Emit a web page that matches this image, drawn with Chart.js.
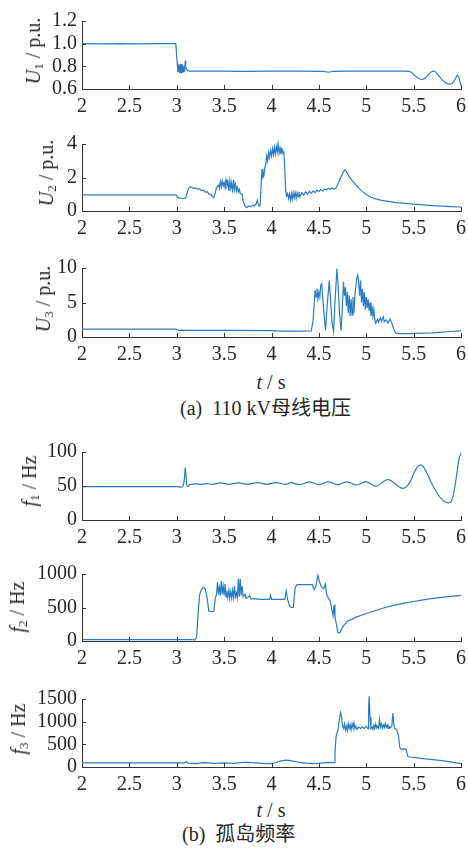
<!DOCTYPE html>
<html><head><meta charset="utf-8">
<script src="https://cdn.jsdelivr.net/npm/chart.js@4.4.1/dist/chart.umd.min.js"></script>
<style>
html,body{margin:0;padding:0;background:#fff}
body{width:468px;height:848px;position:relative;overflow:hidden;font-family:'Liberation Serif','Times New Roman',serif;color:#262626}
.c{position:absolute;left:0}
.yl{position:absolute;transform:translate(-50%,-50%) rotate(-90deg);white-space:nowrap;font-size:20px;line-height:20px}
.yl sub{font-size:13px;vertical-align:-3px;line-height:0}
.xl{position:absolute;transform:translate(-50%,-50%);white-space:nowrap;font-size:20px;line-height:22px}
.cap{position:absolute;transform:translateY(-50%);white-space:nowrap;font-size:20px;line-height:22px;font-family:'Liberation Serif','Noto Sans CJK SC',serif}
</style>
</head><body>
<script>
// ---- tick labels ----
const xTickVals = [2, 2.5, 3, 3.5, 4, 4.5, 5, 5.5, 6];
const xTickLabels = ['2', '2.5', '3', '3.5', '4', '4.5', '5', '5.5', '6'];
const u1Ticks = [0.6, 0.8, 1.0, 1.2];
const u1TickLabels = ['0.6', '0.8', '1.0', '1.2'];
const u2Ticks = [0, 2, 4];
const u2TickLabels = ['0', '2', '4'];
const u3Ticks = [0, 5, 10];
const u3TickLabels = ['0', '5', '10'];
const f1Ticks = [0, 50, 100];
const f1TickLabels = ['0', '50', '100'];
const f2Ticks = [0, 500, 1000];
const f2TickLabels = ['0', '500', '1000'];
const f3Ticks = [0, 500, 1000, 1500];
const f3TickLabels = ['0', '500', '1000', '1500'];

// ---- U1 (p.u.) ----
const u1T = [2.00,2.20,2.40,2.60,2.80,2.99,3.000,3.005,3.010,3.015,3.020,3.025,3.030,3.035,3.040,3.045,3.050,3.055,3.060,3.065,3.070,3.075,3.080,3.085,3.090,3.095,3.100,3.110,3.130,3.30,3.50,3.70,4.00,4.30,4.55,4.60,4.65,4.80,5.00,5.20,5.40,5.45,5.48,5.52,5.56,5.59,5.63,5.67,5.70,5.73,5.77,5.81,5.85,5.88,5.91,5.94,5.96,5.975,5.99,6.00];
const u1V = [1.000,0.998,1.001,0.999,1.001,1.000,0.880,0.820,0.780,0.800,0.750,0.810,0.740,0.820,0.740,0.820,0.740,0.820,0.750,0.810,0.750,0.800,0.760,0.780,0.852,0.800,0.780,0.765,0.758,0.757,0.758,0.756,0.758,0.757,0.755,0.748,0.755,0.757,0.757,0.757,0.757,0.755,0.745,0.712,0.690,0.683,0.700,0.740,0.758,0.752,0.712,0.672,0.650,0.642,0.648,0.690,0.722,0.712,0.662,0.630];

// ---- U2 (p.u.) ----
const u2T = [2.00,2.50,2.99,3.00,3.01,3.05,3.09,3.10,3.12,3.14,3.16,3.18,3.20,3.22,3.24,3.26,3.28,3.30,3.32,3.34,3.36,3.38,3.39,3.40,3.42,3.44,3.45,3.46,3.47,3.48,3.49,3.50,3.51,3.52,3.53,3.54,3.55,3.56,3.57,3.58,3.59,3.60,3.61,3.62,3.63,3.64,3.65,3.66,3.67,3.69,3.70,3.72,3.74,3.76,3.78,3.80,3.82,3.84,3.85,3.86,3.87,3.88,3.89,3.90,3.91,3.92,3.93,3.94,3.95,3.96,3.97,3.98,3.99,4.00,4.01,4.02,4.03,4.04,4.05,4.06,4.07,4.08,4.09,4.10,4.11,4.12,4.13,4.14,4.15,4.16,4.17,4.18,4.19,4.20,4.21,4.22,4.23,4.24,4.25,4.26,4.27,4.28,4.29,4.30,4.32,4.34,4.36,4.38,4.40,4.42,4.44,4.46,4.48,4.50,4.52,4.54,4.56,4.58,4.60,4.62,4.64,4.66,4.68,4.70,4.73,4.76,4.775,4.79,4.82,4.86,4.90,4.95,5.00,5.05,5.10,5.15,5.20,5.30,5.40,5.50,5.60,5.70,5.80,5.90,6.00];
const u2V = [0.96,0.96,0.96,0.90,0.80,0.76,0.75,0.85,1.30,1.45,1.42,1.34,1.38,1.30,1.33,1.22,1.25,1.12,1.15,1.02,0.98,0.85,0.80,0.95,1.40,1.55,1.35,1.75,1.45,1.80,1.50,1.70,1.40,1.85,1.50,1.75,1.20,1.80,1.35,1.70,1.10,1.85,1.30,1.60,1.20,1.40,1.15,1.30,1.05,1.00,0.60,0.30,0.20,0.30,0.25,0.35,0.30,0.45,0.65,0.40,0.30,0.35,1.50,2.50,2.00,2.10,2.60,2.80,3.30,3.00,3.50,3.20,3.60,3.30,3.70,3.35,3.80,3.40,3.85,3.50,4.00,3.45,3.75,3.40,3.70,3.45,3.55,2.50,1.20,0.90,1.05,0.75,1.00,0.65,1.05,0.70,1.10,0.80,1.10,0.75,1.10,0.85,1.15,0.85,1.10,0.95,1.15,1.00,1.18,1.05,1.20,1.10,1.25,1.15,1.28,1.20,1.30,1.25,1.35,1.28,1.38,1.30,1.38,1.60,2.00,2.35,2.45,2.35,2.05,1.75,1.50,1.20,0.98,0.82,0.72,0.65,0.60,0.52,0.46,0.41,0.36,0.32,0.29,0.26,0.24];

// ---- U3 (p.u.) ----
const u3T = [2.00,2.50,2.99,3.02,3.05,3.10,3.50,4.00,4.10,4.30,4.42,4.44,4.46,4.47,4.48,4.49,4.50,4.51,4.52,4.53,4.55,4.57,4.59,4.61,4.62,4.64,4.655,4.67,4.69,4.70,4.72,4.735,4.75,4.76,4.77,4.78,4.79,4.80,4.81,4.82,4.83,4.84,4.85,4.86,4.87,4.88,4.90,4.91,4.92,4.93,4.94,4.95,4.96,4.97,4.98,4.99,5.00,5.01,5.02,5.03,5.04,5.05,5.06,5.07,5.08,5.09,5.10,5.12,5.13,5.15,5.16,5.18,5.19,5.21,5.23,5.25,5.27,5.29,5.31,5.35,5.45,5.60,5.70,5.80,5.90,5.95,6.00];
const u3V = [1.15,1.15,1.15,0.95,1.00,0.95,0.95,0.92,0.85,0.85,0.88,2.50,6.80,5.80,7.00,5.50,6.50,5.80,7.50,7.70,4.00,1.00,5.00,8.20,6.00,2.00,0.80,5.00,9.90,8.00,3.00,0.90,5.00,8.00,6.00,7.20,4.50,6.50,3.50,6.00,3.00,5.50,3.20,5.80,3.50,6.00,8.50,9.00,8.00,6.00,8.20,5.00,7.00,4.50,6.50,4.00,5.80,4.20,5.50,3.80,5.00,3.00,4.50,3.00,4.00,2.50,2.00,2.60,2.20,2.80,2.30,2.90,2.20,2.50,2.00,2.60,2.00,1.20,0.60,0.50,0.48,0.55,0.60,0.70,0.80,0.85,0.90];

// ---- f1 (Hz) ----
const f1T = [2.00,2.50,3.00,3.06,3.08,3.09,3.10,3.11,3.12,3.14,3.20,3.26,3.32,3.38,3.46,3.55,3.65,3.75,3.85,3.95,4.05,4.15,4.20,4.30,4.40,4.50,4.60,4.70,4.80,4.90,5.00,5.10,5.23,5.38,5.45,5.50,5.54,5.57,5.60,5.65,5.70,5.75,5.80,5.84,5.87,5.90,5.93,5.96,5.98,6.00];
const f1V = [49,49,49,49,60,77,60,50,49.5,52,53,52.5,53.5,52.5,54.5,52.5,54.5,52.5,55,52.5,55,52.5,55,52,56,52,56,52,56,51.5,56.5,49.5,59.5,46.5,53,68,78,81,79,66,51,39,30,26,25,28,45,72,90,98];

// ---- f2 (Hz) ----
const f2T = [2.00,3.17,3.19,3.21,3.225,3.24,3.26,3.28,3.30,3.32,3.335,3.34,3.39,3.405,3.42,3.43,3.44,3.45,3.46,3.47,3.48,3.49,3.50,3.51,3.52,3.53,3.54,3.55,3.56,3.57,3.58,3.59,3.60,3.61,3.62,3.63,3.64,3.65,3.66,3.67,3.68,3.69,3.70,3.72,3.73,3.75,3.77,3.78,3.82,3.90,3.98,3.99,4.00,4.14,4.155,4.17,4.19,4.21,4.23,4.25,4.27,4.43,4.45,4.47,4.49,4.51,4.53,4.55,4.57,4.58,4.60,4.62,4.64,4.65,4.66,4.67,4.685,4.70,4.72,4.74,4.76,4.80,4.90,5.00,5.10,5.20,5.30,5.40,5.50,5.60,5.70,5.80,5.90,6.00];
const f2V = [20,20,15,60,400,680,770,800,780,650,480,440,440,620,700,880,720,800,680,900,700,820,680,850,660,750,650,760,640,740,640,760,650,820,660,720,650,930,660,930,680,820,660,700,640,650,680,630,630,620,620,680,620,620,750,620,520,500,500,800,840,840,770,830,980,870,800,780,850,700,640,600,450,380,540,350,250,130,120,180,230,290,360,410,455,500,535,565,590,615,635,650,665,680];

// ---- f3 (Hz) ----
const f3T = [2.00,3.08,3.10,3.12,3.20,3.30,3.40,3.50,3.60,3.70,3.75,3.80,3.90,4.00,4.05,4.10,4.15,4.20,4.30,4.40,4.50,4.60,4.66,4.67,4.68,4.69,4.70,4.72,4.73,4.74,4.75,4.76,4.77,4.78,4.79,4.80,4.81,4.82,4.83,4.84,4.85,4.86,4.87,4.88,4.89,4.90,4.92,4.94,4.96,4.98,5.00,5.02,5.025,5.03,5.04,5.05,5.06,5.07,5.08,5.09,5.10,5.11,5.12,5.13,5.14,5.15,5.16,5.17,5.18,5.19,5.20,5.21,5.22,5.23,5.24,5.25,5.27,5.28,5.29,5.30,5.32,5.34,5.355,5.37,5.40,5.42,5.44,5.46,5.60,5.80,6.00];
const f3V = [90,90,120,85,75,95,80,90,80,100,105,95,80,75,100,135,150,140,100,75,80,100,95,300,650,750,800,1100,1200,1100,900,850,950,820,900,800,960,850,930,820,950,870,980,850,900,830,880,850,880,850,900,840,1300,1560,1100,850,880,830,920,850,950,860,900,850,1050,880,950,860,930,870,960,880,930,850,900,860,900,1190,950,850,830,700,420,390,400,390,230,220,185,140,75];

// ---- layout of the six panels ----
const panels = [
  {t:u1T, v:u1V, ticks:u1Ticks, labels:u1TickLabels, top:17,  bottom:89,  yl:'<i>U</i><sub>1</sub> / p.u.', ylx:33, yly:51, ten:0},
  {t:u2T, v:u2V, ticks:u2Ticks, labels:u2TickLabels, top:140, bottom:211, yl:'<i>U</i><sub>2</sub> / p.u.', ylx:46, yly:173, ten:0},
  {t:u3T, v:u3V, ticks:u3Ticks, labels:u3TickLabels, top:264, bottom:337, yl:'<i>U</i><sub>3</sub> / p.u.', ylx:43, yly:299, ten:0},
  {t:f1T, v:f1V, ticks:f1Ticks, labels:f1TickLabels, top:448, bottom:520, yl:'<i>f</i><sub>1</sub> / Hz', ylx:29, yly:481, ten:0.35},
  {t:f2T, v:f2V, ticks:f2Ticks, labels:f2TickLabels, top:570, bottom:641, yl:'<i>f</i><sub>2</sub> / Hz', ylx:17, yly:607, ten:0},
  {t:f3T, v:f3V, ticks:f3Ticks, labels:f3TickLabels, top:695, bottom:767, yl:'<i>f</i><sub>3</sub> / Hz', ylx:18, yly:729, ten:0}
];

const AXC = '#333333';
const LINEC = '#2a7cc4';
const PADTOP = 13, XAXH = 32, LEFTW = 82, RIGHTPAD = 0, CW = 472;

const inTicks = {
  id: 'inTicks',
  afterDraw(chart) {
    const ctx = chart.ctx, a = chart.chartArea;
    ctx.save();
    ctx.strokeStyle = AXC; ctx.lineWidth = 1;
    const xs = chart.scales.x, ys = chart.scales.y;
    xs.ticks.forEach(tk => {
      const p = Math.round(xs.getPixelForValue(tk.value)) + 0.5;
      ctx.beginPath(); ctx.moveTo(p, a.bottom); ctx.lineTo(p, a.bottom - 4); ctx.stroke();
    });
    ys.ticks.forEach(tk => {
      const p = Math.round(ys.getPixelForValue(tk.value)) + 0.5;
      ctx.beginPath(); ctx.moveTo(a.left, p); ctx.lineTo(a.left + 4, p); ctx.stroke();
    });
    ctx.restore();
  }
};

const tickFont = {family: "'Liberation Serif', 'Times New Roman', serif", size: 20};

panels.forEach((p) => {
  const h = PADTOP + (p.bottom - p.top) + XAXH;
  const cv = document.createElement('canvas');
  cv.className = 'c';
  cv.width = CW; cv.height = h;
  cv.style.top = (p.top - PADTOP) + 'px';
  cv.style.width = CW + 'px'; cv.style.height = h + 'px';
  document.body.appendChild(cv);

  new Chart(cv, {
    type: 'line',
    data: { datasets: [{
      data: p.t.map((x, i) => ({x: x, y: p.v[i]})),
      borderColor: LINEC, borderWidth: 1.2, pointRadius: 0, tension: p.ten, fill: false, clip: false
    }]},
    options: {
      responsive: false, animation: false, devicePixelRatio: 1,
      layout: {padding: {top: PADTOP, right: RIGHTPAD, bottom: 0, left: 0}},
      plugins: {legend: {display: false}, tooltip: {enabled: false}},
      scales: {
        x: {
          type: 'linear', min: 2, max: 6,
          afterBuildTicks: s => { s.ticks = xTickVals.map(v => ({value: v})); },
          afterFit: s => { s.height = XAXH; },
          grid: {display: false, drawTicks: false},
          border: {display: true, color: AXC, width: 1},
          ticks: {autoSkip: false, maxRotation: 0, padding: 6, color: '#262626', font: tickFont,
                  callback: (v, i) => xTickLabels[i]}
        },
        y: {
          type: 'linear', min: p.ticks[0], max: p.ticks[p.ticks.length - 1],
          afterBuildTicks: s => { s.ticks = p.ticks.map(v => ({value: v})); },
          afterFit: s => { s.width = LEFTW; },
          grid: {display: false, drawTicks: false},
          border: {display: true, color: AXC, width: 1},
          ticks: {autoSkip: false, padding: 5, color: '#262626', font: tickFont,
                  callback: (v, i) => p.labels[i]}
        }
      }
    },
    plugins: [inTicks]
  });

  const yl = document.createElement('div');
  yl.className = 'yl';
  yl.innerHTML = p.yl;
  yl.style.left = p.ylx + 'px'; yl.style.top = p.yly + 'px';
  document.body.appendChild(yl);
});

function addText(cls, html, x, y) {
  const d = document.createElement('div');
  d.className = cls; d.innerHTML = html;
  d.style.left = x + 'px'; d.style.top = y + 'px';
  document.body.appendChild(d);
}
addText('xl', '<i>t</i> / s', 271, 382);
addText('cap', '(a)&nbsp; 110 kV母线电压', 180, 408);
addText('xl', '<i>t</i> / s', 271, 810);
addText('cap', '(b)&nbsp; 孤岛频率', 182, 834);
</script>
</body></html>
